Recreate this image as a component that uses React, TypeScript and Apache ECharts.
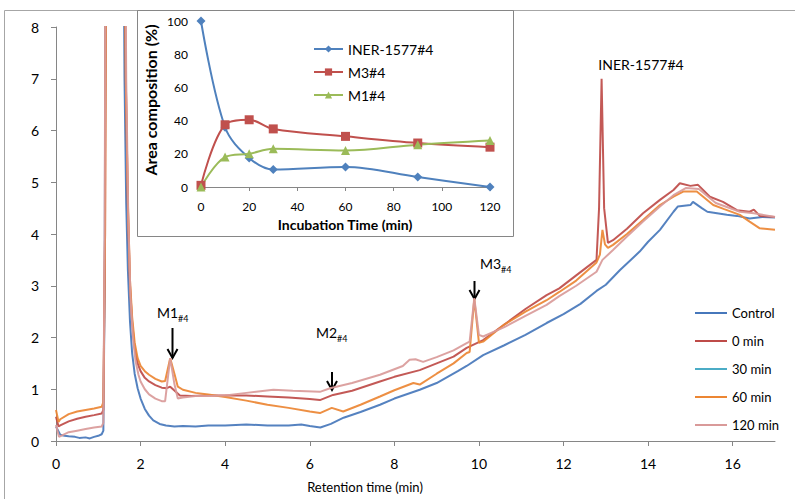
import React, { useEffect, useRef } from 'react';
import * as echarts from 'echarts';

const FONT = 'Lato, "Open Sans", sans-serif';

// Main chromatogram: [retention time (min), signal]
const controlTrace: [number, number][] = [
  [0, 0.28], [0.05, 0.2], [0.1, 0.12], [0.2, 0.1], [0.3, 0.09], [0.45, 0.08], [0.55, 0.06], [0.7, 0.07],
  [0.8, 0.05], [0.9, 0.08], [1.0, 0.1], [1.08, 0.13], [1.12, 0.2], [1.15, 3], [1.18, 12], [1.58, 12],
  [1.62, 7], [1.66, 4.6], [1.7, 3.3], [1.75, 2.3], [1.8, 1.7], [1.86, 1.3], [1.93, 1.02], [2.0, 0.82],
  [2.1, 0.62], [2.2, 0.49], [2.3, 0.4], [2.45, 0.33], [2.6, 0.3], [2.8, 0.28], [3.0, 0.29], [3.3, 0.28],
  [3.6, 0.3], [4.0, 0.3], [4.5, 0.32], [5.0, 0.3], [5.5, 0.3], [5.8, 0.32], [6.0, 0.29], [6.25, 0.26],
  [6.5, 0.33], [6.8, 0.45], [7.2, 0.56], [7.66, 0.7], [8.0, 0.82], [8.6, 0.99], [9.0, 1.12], [9.5, 1.35],
  [9.71, 1.45], [10.1, 1.66], [10.6, 1.85], [11.1, 2.05], [11.6, 2.28], [12.0, 2.45], [12.4, 2.65],
  [12.78, 2.9], [13.0, 3.02], [13.33, 3.3], [13.8, 3.66], [14.0, 3.85], [14.28, 4.08], [14.6, 4.43],
  [14.7, 4.53], [15.0, 4.56], [15.06, 4.62], [15.27, 4.5], [15.4, 4.43], [15.86, 4.37], [16.1, 4.35],
  [16.4, 4.3], [16.7, 4.33], [17.0, 4.32],
];

const min0Trace: [number, number][] = [
  [0, 0.47], [0.06, 0.28], [0.1, 0.3], [0.3, 0.38], [0.5, 0.43], [0.7, 0.47], [0.9, 0.5], [1.08, 0.53],
  [1.12, 0.6], [1.16, 4], [1.19, 12], [1.6, 12], [1.65, 7], [1.7, 4.5], [1.75, 3], [1.8, 2.3], [1.86, 1.8],
  [1.93, 1.5], [2.0, 1.35], [2.1, 1.22], [2.2, 1.15], [2.35, 1.08], [2.5, 1.03], [2.62, 1.02], [2.7, 1.05],
  [2.78, 0.99], [2.93, 0.88], [3.2, 0.87], [3.5, 0.88], [4.0, 0.88], [4.5, 0.88], [5.0, 0.86], [5.5, 0.84],
  [6.0, 0.81], [6.24, 0.79], [6.55, 0.89], [7.0, 0.97], [7.66, 1.15], [8.0, 1.24], [8.6, 1.37], [9.0, 1.5],
  [9.4, 1.63], [9.71, 1.8], [10.1, 1.95], [10.6, 2.25], [11.1, 2.55], [11.6, 2.82], [11.9, 2.95],
  [12.3, 3.2], [12.78, 3.5], [12.84, 4.5], [12.9, 7.0], [12.96, 4.5], [13.05, 3.83], [13.17, 3.88],
  [13.5, 4.1], [13.88, 4.4], [14.28, 4.66], [14.6, 4.85], [14.75, 4.98], [15.0, 4.93], [15.18, 4.95],
  [15.46, 4.72], [15.77, 4.62], [16.1, 4.46], [16.4, 4.43], [16.5, 4.47], [16.64, 4.35], [17.0, 4.33],
];

const min30Trace: [number, number][] = [];

const min60Trace: [number, number][] = [
  [0, 0.6], [0.06, 0.37], [0.1, 0.42], [0.3, 0.52], [0.5, 0.57], [0.7, 0.6], [0.9, 0.63], [1.08, 0.66],
  [1.12, 0.75], [1.16, 4], [1.19, 12], [1.6, 12], [1.65, 7], [1.7, 4.6], [1.75, 3.1], [1.8, 2.4], [1.86, 1.9],
  [1.93, 1.6], [2.0, 1.45], [2.1, 1.35], [2.2, 1.28], [2.35, 1.2], [2.5, 1.15], [2.58, 1.16], [2.7, 1.6],
  [2.8, 1.3], [2.88, 1.05], [3.0, 0.99], [3.3, 0.93], [3.6, 0.9], [4.0, 0.85], [4.5, 0.78], [5.0, 0.7],
  [5.5, 0.64], [6.0, 0.57], [6.24, 0.54], [6.52, 0.64], [6.79, 0.57], [7.2, 0.7], [7.66, 0.86], [8.0, 0.98],
  [8.45, 1.12], [8.6, 1.09], [9.0, 1.3], [9.4, 1.5], [9.71, 1.7], [9.78, 1.72], [9.89, 2.74], [10.0, 1.9],
  [10.1, 1.92], [10.6, 2.25], [11.1, 2.5], [11.6, 2.72], [11.9, 2.88], [12.3, 3.1], [12.78, 3.45],
  [12.86, 3.6], [12.92, 4.08], [12.98, 3.8], [13.05, 3.73], [13.17, 3.79], [13.5, 4.0], [13.88, 4.27],
  [14.28, 4.56], [14.6, 4.72], [14.83, 4.82], [15.15, 4.82], [15.54, 4.56], [15.8, 4.48], [16.17, 4.37],
  [16.4, 4.24], [16.64, 4.11], [17.0, 4.08],
];

const min120Trace: [number, number][] = [
  [0, 0.31], [0.07, 0.08], [0.12, 0.1], [0.3, 0.17], [0.5, 0.2], [0.7, 0.23], [0.9, 0.26], [1.08, 0.28],
  [1.12, 0.35], [1.15, 4], [1.18, 12], [1.62, 12], [1.66, 7], [1.71, 4.3], [1.76, 2.8], [1.82, 2.0],
  [1.88, 1.55], [1.95, 1.28], [2.0, 1.15], [2.1, 1.0], [2.2, 0.9], [2.35, 0.82], [2.5, 0.77], [2.58, 0.77],
  [2.7, 1.6], [2.8, 1.1], [2.88, 0.82], [3.0, 0.84], [3.3, 0.87], [3.6, 0.87], [4.0, 0.88], [4.5, 0.93],
  [5.14, 0.99], [5.6, 0.97], [6.24, 0.95], [6.48, 1.02], [7.0, 1.12], [7.66, 1.28], [8.2, 1.45],
  [8.36, 1.57], [8.5, 1.58], [8.68, 1.53], [9.0, 1.62], [9.4, 1.75], [9.71, 1.89], [9.78, 1.92],
  [9.89, 2.76], [10.0, 2.05], [10.1, 2.02], [10.6, 2.2], [11.1, 2.42], [11.6, 2.63], [11.9, 2.8],
  [12.3, 3.0], [12.78, 3.27], [12.92, 3.5], [13.17, 3.69], [13.5, 3.95], [13.88, 4.24], [14.28, 4.53],
  [14.6, 4.75], [14.9, 4.89], [15.2, 4.87], [15.6, 4.6], [16.17, 4.43], [16.5, 4.4], [17.0, 4.33],
];

const traceNames = ['Control', '0 min', '30 min', '60 min', '120 min'];
const traceColors = ['#4677BB', '#BE4B48', '#4BACC6', '#EC8633', '#D99A99'];
const traces = [controlTrace, min0Trace, min30Trace, min60Trace, min120Trace];

// Inset: area composition vs incubation time
const incubationTimes = [0, 10, 20, 30, 60, 90, 120];
const inerValues = [100, 36, 17.5, 10.5, 12, 6, 0];
const m3Values = [1, 37.5, 40.5, 35, 30.5, 26.5, 24];
const m1Values = [0, 18, 20, 23, 22, 25.5, 28];
const insetNames = ['INER-1577#4', 'M3#4', 'M1#4'];
const insetColors = ['#4F81BD', '#C0504D', '#9BBB59'];
const insetSymbols = ['diamond', 'rect', 'triangle'];
const insetValues = [inerValues, m3Values, m1Values];

function arrow(x: number, y1: number, y2: number) {
  return [
    { type: 'line', shape: { x1: x, y1, x2: x, y2 }, style: { stroke: '#000', lineWidth: 2 } },
    {
      type: 'polyline',
      shape: { points: [[x - 5, y2 - 9], [x, y2], [x + 5, y2 - 9]] },
      style: { stroke: '#000', lineWidth: 2, fill: 'none' },
    },
  ];
}

function label(main: string, sub: string, x: number, y: number) {
  return [
    { type: 'text', x, y, style: { text: main, font: `14px ${FONT}`, fill: '#000', textAlign: 'left', textVerticalAlign: 'middle' } },
    { type: 'text', x: x + main.length * 10.5, y: y + 6, style: { text: sub, font: `9px ${FONT}`, fill: '#000', textAlign: 'left', textVerticalAlign: 'middle' } },
  ];
}

export default function App() {
  const ref = useRef<HTMLDivElement>(null);
  useEffect(() => {
    const chart = echarts.init(ref.current!, null, { renderer: 'svg' });
    const mainSeries = traces.map((d, i) => ({
      name: traceNames[i],
      type: 'line',
      xAxisIndex: 0,
      yAxisIndex: 0,
      data: d,
      symbol: 'none',
      clip: true,
      lineStyle: { color: traceColors[i], width: 2, opacity: 0.92 },
      itemStyle: { color: traceColors[i] },
    }));
    const insetSeries = insetValues.map((vals, i) => ({
      name: insetNames[i],
      type: 'line',
      xAxisIndex: 1,
      yAxisIndex: 1,
      data: incubationTimes.map((t, j) => [t, vals[j]]),
      smooth: 0.35,
      symbol: insetSymbols[i],
      symbolSize: 9,
      lineStyle: { color: insetColors[i], width: 2 },
      itemStyle: { color: insetColors[i] },
    }));

    const option: any = {
      animation: false,
      backgroundColor: '#fff',
      textStyle: { fontFamily: FONT },
      grid: [
        { left: 56, right: 20, top: 27, bottom: 58 },
        { left: 201, width: 289, top: 21, height: 166 },
      ],
      xAxis: [
        {
          type: 'value', gridIndex: 0, min: 0, max: 17, interval: 2,
          axisLine: { lineStyle: { color: '#868686' } },
          axisTick: { show: true, inside: false, length: 5, lineStyle: { color: '#868686' } },
          axisLabel: { margin: 15, fontSize: 14, color: '#000', fontFamily: FONT, showMaxLabel: false },
          splitLine: { show: false },
        },
        {
          type: 'value', gridIndex: 1, min: 0, max: 120, interval: 20,
          axisLine: { lineStyle: { color: '#868686' } },
          axisTick: { show: true, length: 4, lineStyle: { color: '#868686' } },
          axisLabel: { margin: 13, fontSize: 12, color: '#000', fontFamily: FONT },
          splitLine: { show: false },
        },
      ],
      yAxis: [
        {
          type: 'value', gridIndex: 0, min: 0, max: 8, interval: 1,
          axisLine: { show: true, lineStyle: { color: '#868686' } },
          axisTick: { show: true, length: 5, lineStyle: { color: '#868686' } },
          axisLabel: { margin: 17, fontSize: 14, color: '#000', fontFamily: FONT },
          splitLine: { show: false },
        },
        {
          type: 'value', gridIndex: 1, min: 0, max: 100, interval: 20,
          axisLine: { show: false },
          axisTick: { show: false },
          axisLabel: { margin: 13, fontSize: 12, color: '#000', fontFamily: FONT },
          splitLine: { show: false },
        },
      ],
      legend: [
        {
          data: traceNames,
          orient: 'vertical',
          left: 695, top: 306,
          padding: 0,
          icon: 'rect',
          itemWidth: 32, itemHeight: 2,
          itemGap: 14,
          textStyle: { fontSize: 13, color: '#000', fontFamily: FONT, lineHeight: 14 },
        },
        {
          data: insetNames,
          orient: 'vertical',
          left: 313, top: 41,
          padding: 0,
          itemWidth: 29, itemHeight: 9,
          itemGap: 7,
          textStyle: { fontSize: 14, color: '#000', fontFamily: FONT, lineHeight: 16 },
        },
      ],
      series: [...mainSeries, ...insetSeries],
      graphic: [
        { type: 'rect', shape: { x: 4.5, y: 10.5, width: 800, height: 500 }, style: { fill: 'none', stroke: '#A6A6A6', lineWidth: 1 } },
        { type: 'rect', shape: { x: 137.5, y: 10.5, width: 376, height: 226 }, style: { fill: 'none', stroke: '#868686', lineWidth: 1 } },
        { type: 'text', x: 365, y: 487, style: { text: 'Retention time (min)', font: `13px ${FONT}`, fill: '#000', textAlign: 'center', textVerticalAlign: 'middle' } },
        { type: 'text', x: 345, y: 224, style: { text: 'Incubation Time (min)', font: `bold 14px ${FONT}`, fill: '#000', textAlign: 'center', textVerticalAlign: 'middle' } },
        { type: 'text', x: 150, y: 100, rotation: Math.PI / 2, style: { text: 'Area composition (%)', font: `bold 16px ${FONT}`, fill: '#000', textAlign: 'center', textVerticalAlign: 'middle' } },
        { type: 'text', x: 641, y: 64, style: { text: 'INER-1577#4', font: `14px ${FONT}`, fill: '#000', textAlign: 'center', textVerticalAlign: 'middle' } },
        ...label('M1', '#4', 157, 312),
        ...label('M2', '#4', 316, 332),
        ...label('M3', '#4', 480, 263),
        ...arrow(172.5, 328, 358),
        ...arrow(332, 372, 390),
        ...arrow(474.5, 281, 299),
      ],
    };
    chart.setOption(option);
    return () => chart.dispose();
  }, []);
  return (
    <div
      ref={ref}
      style={{ position: 'fixed', left: 0, top: 0, width: 795, height: 499, background: '#fff' }}
    />
  );
}
